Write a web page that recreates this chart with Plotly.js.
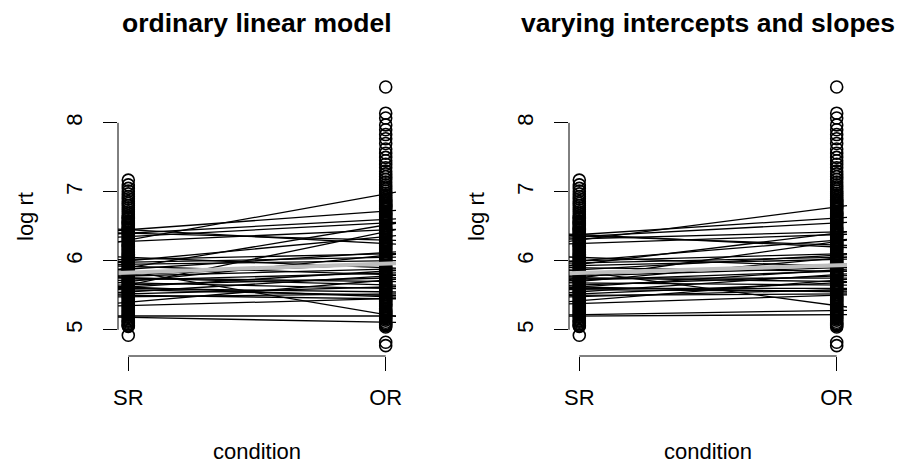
<!DOCTYPE html>
<html><head><meta charset="utf-8">
<script src="https://cdn.plot.ly/plotly-3.0.1.min.js"></script>
<style>html,body{margin:0;padding:0;background:#fff}#chart{width:902px;height:465px}</style>
</head><body><div id="chart"></div>
<script>
// ---- data ----
const conditions = ['SR', 'OR'];
const conditionPos = [1, 2];
const yTicks = [5, 6, 7, 8];
const panelTitles = ['ordinary linear model', 'varying intercepts and slopes'];

// raw log reading times (same in both panels)
const srPoints = [7.17, 7.10, 7.05, 7.01, 6.97, 6.93, 6.90, 6.86, 6.83, 6.80, 6.77, 6.74, 6.71, 6.68,
  6.65, 6.63, 6.61, 6.58, 6.56, 6.54, 6.51, 6.49, 6.47, 6.44, 6.42, 6.40, 6.37, 6.35, 6.33, 6.30,
  6.28, 6.26, 6.23, 6.21, 6.19, 6.16, 6.14, 6.12, 6.09, 6.07, 6.05, 6.02, 6.00, 5.98, 5.95, 5.93,
  5.91, 5.88, 5.86, 5.84, 5.81, 5.79, 5.77, 5.74, 5.72, 5.70, 5.67, 5.65, 5.63, 5.60, 5.58, 5.56,
  5.53, 5.51, 5.49, 5.46, 5.44, 5.42, 5.39, 5.37, 5.35, 5.32, 5.30, 5.28, 5.25, 5.23, 5.21, 5.18,
  5.16, 5.14, 5.11, 5.09, 5.07, 5.05, 4.92,
  6.62, 6.575, 6.53, 6.46, 6.385, 6.32, 6.245, 6.17, 6.10, 6.035, 5.965, 5.895, 5.83, 5.755,
  5.685, 5.615, 5.545, 5.475, 5.405, 5.335, 5.265, 5.195, 5.125, 5.06, 6.455, 6.215, 5.945, 5.705];
const orPoints = [8.52, 8.14, 8.07, 7.97, 7.90, 7.83, 7.77, 7.70, 7.62, 7.56, 7.50, 7.45, 7.40, 7.35,
  7.30, 7.26, 7.22, 7.18, 7.14, 7.10, 7.07, 7.04, 7.01, 6.98, 6.95, 6.92, 6.89, 6.86, 6.84, 6.81,
  6.79, 6.76, 6.74, 6.71, 6.69, 6.66, 6.64, 6.61, 6.59, 6.56, 6.54, 6.51, 6.49, 6.46, 6.44, 6.41,
  6.39, 6.36, 6.34, 6.31, 6.29, 6.26, 6.24, 6.21, 6.19, 6.16, 6.14, 6.11, 6.09, 6.06, 6.04, 6.01,
  5.99, 5.96, 5.94, 5.91, 5.89, 5.86, 5.84, 5.81, 5.79, 5.76, 5.74, 5.71, 5.69, 5.66, 5.64, 5.61,
  5.59, 5.56, 5.54, 5.51, 5.49, 5.46, 5.44, 5.41, 5.39, 5.36, 5.34, 5.31, 5.29, 5.26, 5.24, 5.21,
  5.19, 5.16, 5.14, 5.11, 5.09, 5.06, 5.04, 4.82, 4.77,
  6.875, 6.775, 6.675, 6.575, 6.475, 6.375, 6.275, 6.175, 6.075, 5.975, 5.875, 5.775, 5.675,
  5.575, 5.475, 5.375, 5.275, 5.175, 5.075, 6.825, 6.625, 6.425, 6.225, 6.025, 5.825, 5.625,
  5.425, 5.225];

// per-subject fitted values at SR and OR
const olsSR = [6.30, 6.45, 6.40, 6.35, 5.90, 5.65, 6.40, 6.28, 6.45, 6.00, 6.02, 5.98, 5.95, 5.92, 5.88,
  5.85, 5.80, 5.78, 5.75, 5.72, 5.70, 5.68, 5.65, 5.62, 5.60, 5.58, 5.55, 5.52, 5.50, 5.48, 5.40,
  5.20, 5.18, 5.62, 5.75, 6.05, 5.35];
const olsOR = [6.97, 6.72, 6.60, 6.55, 6.52, 6.42, 6.30, 6.45, 6.25, 6.35, 6.10, 6.05, 6.00, 5.80, 6.12,
  5.22, 5.95, 5.88, 5.70, 5.82, 6.08, 5.60, 5.75, 5.85, 5.55, 5.50, 5.78, 5.62, 5.45, 5.52, 5.72,
  5.20, 5.11, 5.48, 5.65, 5.90, 5.45];
const mixSR = [6.30, 6.38, 6.35, 6.32, 5.95, 5.75, 6.36, 6.25, 6.38, 6.00, 6.00, 5.97, 5.93, 5.90, 5.87,
  5.85, 5.80, 5.78, 5.75, 5.72, 5.70, 5.68, 5.65, 5.62, 5.60, 5.58, 5.55, 5.52, 5.50, 5.48, 5.42,
  5.22, 5.20, 5.62, 5.75, 6.05, 5.38];
const mixOR = [6.78, 6.62, 6.55, 6.42, 6.40, 6.28, 6.23, 6.38, 6.20, 6.30, 6.10, 6.05, 6.02, 5.85, 6.08,
  5.35, 5.95, 5.90, 5.75, 5.85, 6.04, 5.65, 5.78, 5.87, 5.60, 5.56, 5.80, 5.68, 5.52, 5.58, 5.72,
  5.28, 5.22, 5.55, 5.70, 5.92, 5.50];
// population-level (grey) line
const olsMean = [5.83, 5.96];
const mixMean = [5.825, 5.935];

// ---- build ----
const xRange = [0.96, 2.04];
const yRange = [4.62, 8.65];
const W = 902, H = 465;
const FONT = 'Liberation Sans, Arial, Helvetica, sans-serif';

function lineTrace(sr, or, xa, ya, color, width) {
  const xs = [], ys = [];
  for (let i = 0; i < sr.length; i++) {
    const b = or[i] - sr[i];
    xs.push(xRange[0], xRange[1], null);
    ys.push(sr[i] + b * (xRange[0] - 1), sr[i] + b * (xRange[1] - 1), null);
  }
  return {type: 'scatter', mode: 'lines', x: xs, y: ys, xaxis: xa, yaxis: ya,
    line: {color: color, width: width}, hoverinfo: 'skip', showlegend: false};
}
function pointTrace(xa, ya) {
  const xs = [], ys = [];
  srPoints.forEach(v => { xs.push(conditionPos[0]); ys.push(v); });
  orPoints.forEach(v => { xs.push(conditionPos[1]); ys.push(v); });
  return {type: 'scatter', mode: 'markers', x: xs, y: ys, xaxis: xa, yaxis: ya,
    marker: {symbol: 'circle-open', size: 12, color: '#000', line: {width: 1.6, color: '#000'}},
    showlegend: false, hoverinfo: 'skip'};
}

const traces = [
  pointTrace('x', 'y'),
  lineTrace(olsSR, olsOR, 'x', 'y', '#000', 1.3),
  lineTrace([olsMean[0]], [olsMean[1]], 'x', 'y', '#bebebe', 4),
  pointTrace('x2', 'y2'),
  lineTrace(mixSR, mixOR, 'x2', 'y2', '#000', 1.3),
  lineTrace([mixMean[0]], [mixMean[1]], 'x2', 'y2', '#bebebe', 4)
];

const yDom = [1 - 356 / H, 1 - 78 / H];
function xAxis(dom) {
  return {domain: dom, range: xRange, tickvals: conditionPos, ticktext: conditions,
    ticks: 'outside', ticklen: 14, tickwidth: 1, tickcolor: '#000', showline: false,
    showgrid: false, zeroline: false, fixedrange: true, ticklabelstandoff: 8,
    tickfont: {family: FONT, size: 22, color: '#000'}};
}
function yAxis(anchor) {
  return {domain: yDom, range: yRange, tickvals: yTicks, anchor: anchor,
    ticks: 'outside', ticklen: 14, tickwidth: 1, tickcolor: '#000', showline: false,
    showgrid: false, zeroline: false, tickangle: -90, fixedrange: true, ticklabelstandoff: 12,
    tickfont: {family: FONT, size: 22, color: '#000'}};
}

const shapes = [];
const annotations = [];
[['x', 'y'], ['x2', 'y2']].forEach(([xa, ya], k) => {
  shapes.push({type: 'line', xref: xa + ' domain', yref: ya, x0: 0, x1: 0, y0: yTicks[0], y1: yTicks[yTicks.length - 1],
    line: {color: '#000', width: 1}});
  shapes.push({type: 'line', xref: xa, yref: ya + ' domain', x0: conditionPos[0], x1: conditionPos[1], y0: 0, y1: 0,
    line: {color: '#000', width: 1}});
  annotations.push({text: '<b>' + panelTitles[k] + '</b>', xref: xa + ' domain', yref: 'paper',
    x: 0.5, y: 1 - 23 / H, xanchor: 'center', yanchor: 'middle', showarrow: false,
    font: {family: FONT, size: 26.5, color: '#000'}});
  annotations.push({text: 'condition', xref: xa + ' domain', yref: 'paper',
    x: 0.5, y: 1 - 451 / H, xanchor: 'center', yanchor: 'middle', showarrow: false,
    font: {family: FONT, size: 22, color: '#000'}});
  annotations.push({text: 'log rt', xref: 'paper', yref: ya + ' domain',
    x: (k === 0 ? 25 : 476) / W, y: 0.5, xanchor: 'center', yanchor: 'middle', textangle: -90, showarrow: false,
    font: {family: FONT, size: 22, color: '#000'}});
});

const layout = {
  width: W, height: H, margin: {l: 0, r: 0, t: 0, b: 0},
  paper_bgcolor: '#fff', plot_bgcolor: '#fff', showlegend: false,
  xaxis: xAxis([118 / W, 396 / W]), yaxis: yAxis('x'),
  xaxis2: xAxis([569 / W, 847 / W]), yaxis2: yAxis('x2'),
  shapes: shapes, annotations: annotations
};
layout.xaxis.anchor = 'y';
layout.xaxis2.anchor = 'y2';

Plotly.newPlot('chart', traces, layout, {displayModeBar: false, staticPlot: true});
</script></body></html>
